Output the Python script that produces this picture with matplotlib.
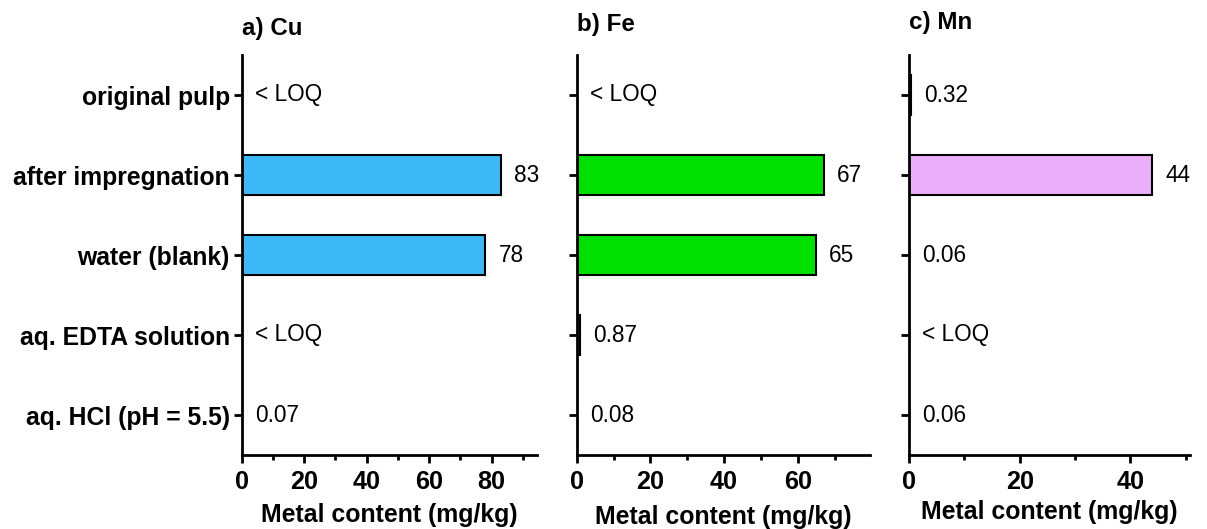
import numpy as np
import matplotlib
matplotlib.use("Agg")
import matplotlib.pyplot as plt
from matplotlib.ticker import MultipleLocator

plt.rcParams['font.family'] = ['Liberation Sans', 'DejaVu Sans']

categories = ["original pulp", "after impregnation", "water (blank)",
              "aq. EDTA solution", "aq. HCl (pH = 5.5)"]
cu_values = [np.nan, 83, 78, np.nan, 0.07]
fe_values = [np.nan, 67, 65, 0.87, 0.08]
mn_values = [0.32, 44, 0.06, np.nan, 0.06]
cu_labels = ["< LOQ", "83", "78", "< LOQ", "0.07"]
fe_labels = ["< LOQ", "67", "65", "0.87", "0.08"]
mn_labels = ["0.32", "44", "0.06", "< LOQ", "0.06"]
titles = ["a) Cu", "b) Fe", "c) Mn"]
colors = ["#3BB8F5", "#00E000", "#EBAFFA"]
xlims = [94.5, 79.6, 50.8]

W, H = 1207, 529
fig = plt.figure(figsize=(W / 100, H / 100), dpi=100)

# axes pixel boxes: (left, right)
boxes = [(241.7, 537), (576.7, 870), (909, 1190)]
top_px, bot_px = 55, 455
title_y = [28, 25, 22]
xlabel_y = [515, 517, 512]

series = [cu_values, fe_values, mn_values]
labels = [cu_labels, fe_labels, mn_labels]
y = np.arange(len(categories))

for i in range(3):
    l, r = boxes[i]
    ax = fig.add_axes([l / W, 1 - bot_px / H, (r - l) / W, (bot_px - top_px) / H])
    vals = np.array(series[i], dtype=float)
    ax.barh(y, np.nan_to_num(vals), height=0.5, color=colors[i],
            edgecolor="black", linewidth=1.5, zorder=2)
    for yi, v, lab in zip(y, vals, labels[i]):
        xv = 0 if np.isnan(v) else v
        ax.annotate(lab, (xv, yi), xytext=(13, 0), textcoords="offset pixels",
                    ha="left", va="center", fontsize=16.3)
    ax.set_ylim(len(categories) - 0.5, -0.5)
    ax.set_xlim(0, xlims[i])
    ax.set_yticks(y)
    if i == 0:
        ax.set_yticklabels(categories, fontsize=17.8, fontweight="bold")
    else:
        ax.set_yticklabels([])
    ax.xaxis.set_major_locator(MultipleLocator(20))
    ax.xaxis.set_minor_locator(MultipleLocator(10))
    for lab in ax.get_xticklabels():
        lab.set_fontweight("bold")
    ax.tick_params(axis="x", labelsize=18.2, width=2, length=6, pad=5)
    ax.tick_params(axis="x", which="minor", width=2, length=3.5)
    ax.tick_params(axis="y", width=2, length=5.5, pad=3)
    for s in ["top", "right"]:
        ax.spines[s].set_visible(False)
    for s in ["left", "bottom"]:
        ax.spines[s].set_linewidth(2)
        ax.spines[s].set_zorder(3)
    fig.text(l / W, 1 - title_y[i] / H, titles[i], fontsize=17.4,
             fontweight="bold", ha="left", va="center")
    fig.text((l + r) / 2 / W, 1 - xlabel_y[i] / H, "Metal content (mg/kg)",
             fontsize=17.9, fontweight="bold", ha="center", va="center")

fig.savefig("out.png", dpi=100)
